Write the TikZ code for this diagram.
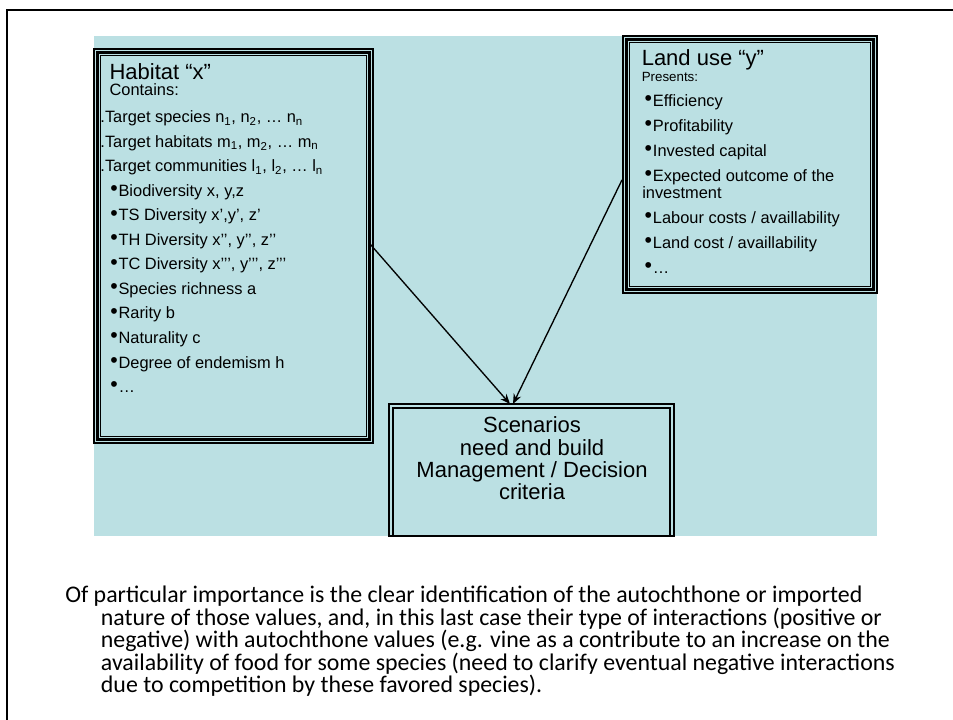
\documentclass[tikz,border=0pt]{standalone}
\usepackage{fontspec}
\usepackage{graphicx}
\setmainfont{Liberation Sans}
\newfontfamily\bodyfont{Carlito}
\usetikzlibrary{arrows.meta,calc,fit}
\definecolor{slideblue}{RGB}{187,224,227}
\newcommand\itbul{\raisebox{0.06em}{\scalebox{1.3}{•}}\kern0.05em}
\tikzset{
  area/.style={inner sep=0pt, outer sep=0pt},
  thinrule/.style={draw=black, line width=0.8pt},
  thickrule/.style={draw=black, line width=2pt},
  conn/.style={draw=black, line width=1pt, -{Stealth[length=7.5pt,width=6pt]}},
  ln/.style={inner sep=0pt, anchor=base west},
  titlefont/.style={font=\fontsize{16.5}{19}\selectfont},
  itemfont/.style={font=\fontsize{12.3}{14}\selectfont},
  subfont/.style={font=\fontsize{10}{12}\selectfont},
  scenline/.style={inner sep=0pt, anchor=base, font=\fontsize{16.5}{19}\selectfont},
  bodyline/.style={inner sep=0pt, anchor=base west, font=\bodyfont\fontsize{17.9}{21}\selectfont},
}
\begin{document}
\begin{tikzpicture}[x=0.75pt, y=-0.75pt]
\useasboundingbox (0,0) rectangle (953,720);
\clip (0,0) rectangle (953,720);
\fill[white] (0,0) rectangle (953,720);

% page frame
\draw[line width=1.5pt] (7,10) rectangle (980,750);

% light background panel
\fill[slideblue] (94,36) rectangle (877,536);

% box areas
\node[area, fit={(94,49) (373,443)}] (hab) {};
\node[area, fit={(623,36) (877,293)}] (land) {};
\node[area, fit={(389,404) (674,536)}] (scen) {};

% thin-thick-thin frames
\foreach \b in {hab, land} {
  \draw[thinrule] (\b.north west) rectangle (\b.south east);
  \draw[thickrule] ($(\b.north west)+(3.5,3.5)$) rectangle ($(\b.south east)+(-3.5,-3.5)$);
  \draw[thinrule] ($(\b.north west)+(6.8,6.8)$) rectangle ($(\b.south east)+(-6.8,-6.8)$);
}
% double frame of the scenarios box
\draw[line width=1.1pt] (scen.north west) rectangle (scen.south east);
\draw[thinrule] ($(scen.south west)+(4,0)$) -- ($(scen.north west)+(4,4)$)
  -- ($(scen.north east)+(-4,4)$) -- ($(scen.south east)+(-4,0)$);

% habitat box text
\node[ln, titlefont] (hab-t) at (109.3,79.3) {Habitat “x”};
\node[ln, itemfont] (hab-c) at (109.3,96) {Contains:};
\foreach \t [count=\i] in {
  {.Target species n\textsubscript{1}, n\textsubscript{2}, … n\textsubscript{n}},
  {.Target habitats m\textsubscript{1}, m\textsubscript{2}, … m\textsubscript{n}},
  {.Target communities l\textsubscript{1}, l\textsubscript{2}, … l\textsubscript{n}}}
  \node[ln, itemfont] (hab-\i) at (100.2,{123+24.5*(\i-1)}) {\t};
\foreach \t [count=\i from 4] in {
  {Biodiversity x, y,z},
  {TS Diversity x’,y’, z’},
  {TH Diversity x’’, y’’, z’’},
  {TC Diversity x’’’, y’’’, z’’’},
  {Species richness a},
  {Rarity b},
  {Naturality c},
  {Degree of endemism h},
  {…}}
  \node[ln, itemfont] (hab-\i) at (110,{123+24.5*(\i-1)}) {\itbul\t};

% land use box text
\node[ln, titlefont] (land-t) at (641.5,66) {Land use “y”};
\node[ln, subfont] (land-c) at (641.5,81.7) {Presents:};
\foreach \t/\y [count=\i] in {
  {Efficiency}/106.7,
  {Profitability}/131.7,
  {Invested capital}/156.7,
  {Expected outcome of the}/181.7,
  {Labour costs / availlability}/223.3,
  {Land cost / availlability}/248.3,
  {…}/273.3}
  \node[ln, itemfont] (land-\i) at (644.4,\y) {\itbul\t};
\node[ln, itemfont] (land-4b) at (642,198.3) {investment};

% scenarios box text
\node[scenline] (scen-1) at (532,432.7) {Scenarios};
\node[scenline] (scen-2) at (532,455) {need and build};
\node[scenline] (scen-3) at (532,477.3) {Management / Decision};
\node[scenline] (scen-4) at (532,499.3) {criteria};

% connectors into the scenarios box
\draw[conn] ($(hab.north east)!0.492!(hab.south east)+(-4,0)$) -- ($(scen.north west)+(121,0)$);
\draw[conn] ($(land.north west)!0.560!(land.south west)+(-1,0)$) -- ($(scen.north west)+(124,0)$);

% note below the diagram
\node[bodyline] (note-1) at (65,602.7) {Of particular importance is the clear identification of the autochthone or imported};
\node[bodyline] (note-2) at (100.7,625) {nature of those values, and, in this last case their type of interactions (positive or};
\node[bodyline] (note-3) at (100.7,647.7) {negative) with autochthone values (e.g. vine as a contribute to an increase on the};
\node[bodyline] (note-4) at (100.7,670) {availability of food for some species (need to clarify eventual negative interactions};
\node[bodyline] (note-5) at (100.7,692.3) {due to competition by these favored species).};
\end{tikzpicture}
\end{document}
